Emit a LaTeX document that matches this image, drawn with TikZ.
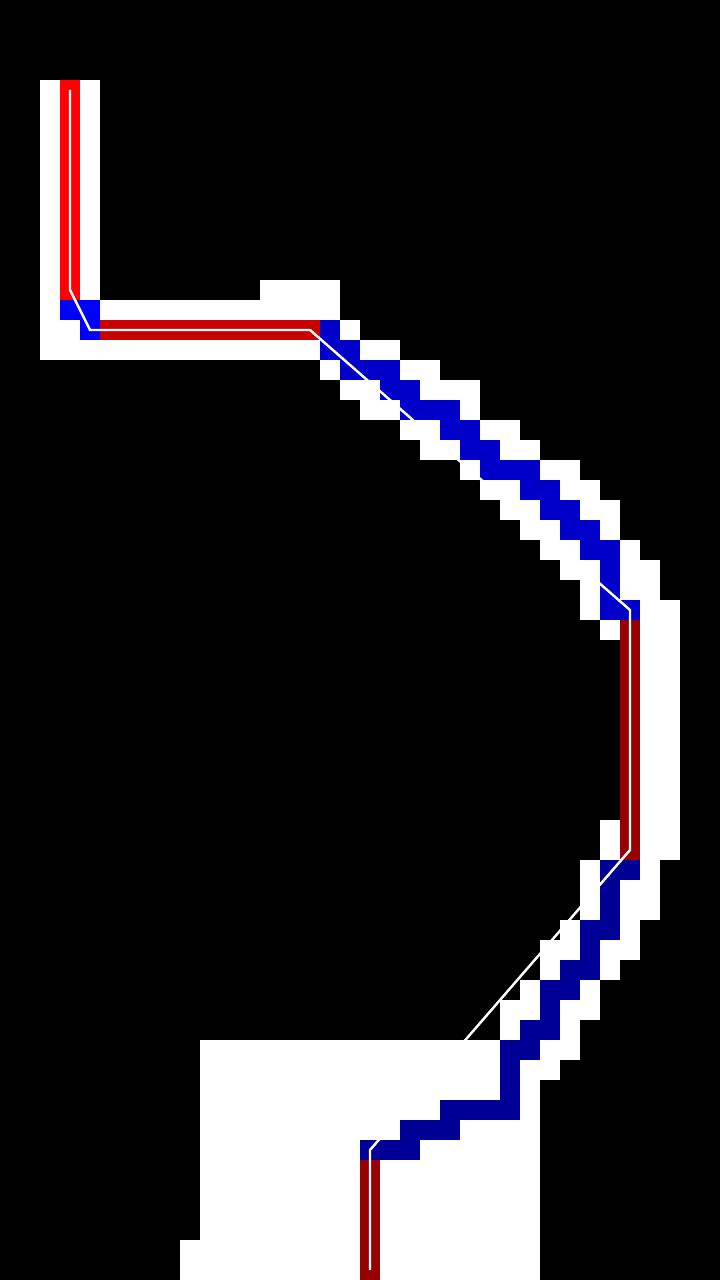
\documentclass[tikz,border=0pt]{standalone}
\usepackage{xcolor}
\usepackage{tikz}
\definecolor{plredA}{RGB}{255,0,0}
\definecolor{plblueA}{RGB}{0,0,255}
\definecolor{plredB}{RGB}{200,0,0}
\definecolor{plblueB}{RGB}{0,0,200}
\definecolor{plredC}{RGB}{150,0,0}
\definecolor{plblueC}{RGB}{0,0,150}
\begin{document}
\begin{tikzpicture}[
    x=2mm, y=-2mm,
    freecell/.style={fill=white},
    redA/.style={fill=plredA},
    blueA/.style={fill=plblueA},
    redB/.style={fill=plredB},
    blueB/.style={fill=plblueB},
    redC/.style={fill=plredC},
    blueC/.style={fill=plblueC},
    route/.style={draw=white, line width=0.7pt, line join=miter},
  ]
  % Podloga
  \fill[black] (0,0) rectangle (36,64);

  % Slobodne celije (red od/do, stupac od/do)
  \foreach \ra/\rb/\ca/\cb in {4/14/2/4, 14/14/13/16, 15/15/2/16, 16/16/2/17,
      17/17/2/19, 18/18/16/21, 19/19/17/23, 20/20/18/23, 21/21/20/25,
      22/22/21/26, 23/23/23/28, 24/24/24/29, 25/25/25/30, 26/26/26/30,
      27/27/27/31, 28/28/28/32, 29/29/29/32, 30/30/29/33, 31/31/30/33,
      32/40/31/33, 41/42/30/33, 43/45/29/32, 46/46/28/31, 47/47/27/31,
      48/48/27/30, 49/49/26/29, 50/50/25/29, 51/51/25/28, 52/52/10/28,
      53/53/10/27, 54/61/10/26, 62/63/9/26}
    \fill[freecell] (\ca,\ra) rectangle (\cb+1,\rb+1);

  % Ravni dijelovi puta
  \fill[redA] (3,4) rectangle (4,15);
  \fill[redB] (5,16) rectangle (16,17);
  \fill[redC] (31,31) rectangle (32,43);
  \fill[redC] (18,58) rectangle (19,64);

  % Dijagonalni dijelovi puta
  \foreach \c/\r in {3/15, 4/15, 4/16}
    \fill[blueA] (\c,\r) rectangle ++(1,1);
  \foreach \c/\r in {16/16, 16/17, 17/17, 17/18, 18/18, 19/18, 19/19, 20/19,
      20/20, 21/20, 22/20, 22/21, 23/21, 23/22, 24/22, 24/23, 25/23, 26/23,
      26/24, 27/24, 27/25, 28/25, 28/26, 29/26, 29/27, 30/27, 30/28, 30/29,
      30/30, 31/30}
    \fill[blueB] (\c,\r) rectangle ++(1,1);
  \foreach \c/\r in {30/43, 31/43, 30/44, 30/45, 29/46, 30/46, 29/47, 28/48,
      29/48, 27/49, 28/49, 27/50, 26/51, 27/51, 25/52, 26/52, 25/53, 25/54,
      22/55, 23/55, 24/55, 25/55, 20/56, 21/56, 22/56, 18/57, 19/57, 20/57}
    \fill[blueC] (\c,\r) rectangle ++(1,1);

  % Zaglađeni put
  \coordinate (start) at (3.5,4.5);
  \coordinate (turn1) at (3.5,14.5);
  \coordinate (turn2) at (4.5,16.5);
  \coordinate (turn3) at (15.5,16.5);
  \coordinate (turn4) at (31.5,30.5);
  \coordinate (turn5) at (31.5,42.5);
  \coordinate (turn6) at (18.5,57.5);
  \coordinate (goal) at (18.5,63.5);
  \draw[route] (start) -- (turn1) -- (turn2) -- (turn3) -- (turn4)
    -- (turn5) -- (turn6) -- (goal);
\end{tikzpicture}
\end{document}
